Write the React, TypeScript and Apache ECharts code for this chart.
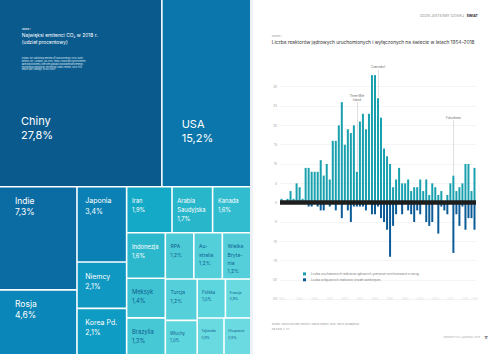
import React, { useEffect, useRef } from 'react';
import * as echarts from 'echarts';

const FONT = 'Inter, "Noto Sans", "DejaVu Sans", sans-serif';

// ---------- Left page: largest CO2 emitters in 2018 (share, %) ----------
const countries = [
  'Chiny', 'USA', 'Indie', 'Rosja', 'Japonia', 'Niemcy', 'Korea Pd.', 'Iran',
  'Arabia Saudyjska', 'Kanada', 'Indonezja', 'Meksyk', 'Brazylia', 'RPA',
  'Australia', 'Wielka Brytania', 'Turcja', 'Włochy', 'Polska', 'Francja',
  'Tajlandia', 'Hiszpania',
];
const emissionShares = [
  27.8, 15.2, 7.3, 4.6, 3.4, 2.1, 2.1, 1.9, 1.7, 1.6, 1.6, 1.4, 1.3, 1.2, 1.2,
  1.2, 1.2, 1.0, 1.0, 0.9, 0.9, 0.9,
];
const cellLabelNames = [
  'Chiny', 'USA', 'Indie', 'Rosja', 'Japonia', 'Niemcy', 'Korea Pd.', 'Iran',
  'Arabia\nSaudyjska', 'Kanada', 'Indonezja', 'Meksyk', 'Brazylia', 'RPA',
  'Au-\nstralia', 'Wielka\nBryta-\nnia', 'Turcja', 'Włochy', 'Polska', 'Francja',
  'Tajlandia', 'Hiszpania',
];

// styles (kept apart from the data)
const cellColors = [
  '#0b5a8e', '#0a76ab', '#0b6ba3', '#0a87b8', '#0b80b4', '#0e98c2', '#0e9cc4',
  '#14a9c6', '#28b6ca', '#31bccf', '#2cb8cc', '#3fc3d2', '#47c8d5', '#4ccbd7',
  '#52cfd9', '#55d0da', '#55d0da', '#5ed6de', '#5ed6de', '#68dae0', '#68dae0',
  '#6cdbe1',
];
const cellTiers = [
  'xl', 'xl', 'l', 'l', 'm', 'm', 'm', 's', 's', 's', 's', 's', 's', 'xs', 'xs',
  'xs', 'xs', 'xxs', 'xxs', 'xxxs', 'xxxs', 'xxxs',
];
const TIERS: Record<string, any> = {
  xl: { fontSize: 11, lineHeight: 14, padding: 0 },
  l: { fontSize: 8.5, lineHeight: 11.5, padding: [7.5, 0, 0, 15] },
  m: { fontSize: 7, lineHeight: 10.5, padding: [8, 0, 0, 7.5] },
  s: { fontSize: 5.8, lineHeight: 9, padding: [8.5, 0, 0, 4.5] },
  xs: { fontSize: 5, lineHeight: 8.3, padding: [8.5, 0, 0, 4.5] },
  xxs: { fontSize: 4.2, lineHeight: 7, padding: [9, 0, 0, 4] },
  xxxs: { fontSize: 3.4, lineHeight: 6.4, padding: [9.5, 0, 0, 3.5] },
};
const BIG_LABEL_POS: Record<string, number[]> = { Chiny: [21, 114], USA: [19, 117] };
const DARK_TEXT = '#0d5c8e';

// ---------- Right page: reactors started up / shut down, 1954-2018 ----------
const years = Array.from({ length: 65 }, (_, i) => String(1954 + i));
const startups = [
  1, 0, 1, 3, 1, 5, 4, 1, 9, 9,
  8, 8, 8, 11, 7, 10, 6, 16, 16, 20,
  26, 15, 19, 18, 20, 8, 21, 23, 19, 23,
  33, 33, 27, 22, 14, 12, 10, 4, 6, 9,
  5, 5, 6, 3, 4, 4, 6, 3, 6, 2,
  5, 4, 2, 3, 0, 2, 5, 7, 3, 4,
  5, 10, 10, 3, 9,
];
const shutdowns = [
  0, 0, 0, 0, 0, 0, 0, 0, 0, 1,
  1, 0, 1, 2, 2, 0, 1, 0, 2, 0,
  4, 0, 2, 5, 1, 1, 1, 1, 2, 0,
  3, 3, 1, 4, 5, 7, 14, 6, 3, 0,
  3, 0, 2, 3, 5, 2, 3, 0, 5, 6,
  5, 0, 8, 1, 2, 3, 0, 13, 3, 6,
  1, 7, 4, 4, 7,
];
const yearTickLabels = [
  '1954', '1960', '1965', '1970', '1975', '1980', '1985', '1990', '1995',
  '2000', '2005', '2010', '2015', '2018',
];
const eventYears = ['1979', '1986', '2011'];
const eventNames = ['Three Mile\nIsland', 'Czarnobyl', 'Fukushima'];
const eventLineFrom = [8.4, 27.3, 7.3];
const eventLineTo = [26, 34.4, 21.3];

const seriesStarted = 'Liczba uruchomionych reaktorów jądrowych (pierwsze synchronizacje z siecią)';
const seriesClosed = 'Liczba wyłączonych reaktorów (trwałe zamknięcie)';

const fmtShare = (v: number) => v.toFixed(1).replace('.', ',') + '%';

const txt = (x: number, y: number, text: string, fontSize: number, fill: string, extra: any = {}) => ({
  type: 'text',
  x,
  y,
  silent: true,
  z: 100,
  style: { text, fill, fontSize, fontFamily: FONT, align: 'left', verticalAlign: 'middle', ...extra },
});

function buildOption() {
  const treemapData = countries.map((name, i) => {
    const tier = TIERS[cellTiers[i]];
    const label: any = {
      fontSize: tier.fontSize,
      lineHeight: tier.lineHeight,
      padding: tier.padding,
      color: i <= 10 ? '#ffffff' : DARK_TEXT,
    };
    if (BIG_LABEL_POS[name]) label.position = BIG_LABEL_POS[name];
    return { name, value: emissionShares[i], itemStyle: { color: cellColors[i] }, label };
  });
  const nameMap: Record<string, string> = {};
  countries.forEach((c, i) => (nameMap[c] = cellLabelNames[i]));

  const leftSource = [
    'Źródło: BP Statistical Review of World Energy 2019, 68th',
    'edition, BP, London, 06.2019, https://www.bp.com/content/',
    'dam/bp/business-sites/en/global/corporate/pdfs/energy-',
    'economics/statistical-review/bp-stats-review-2019-full-',
    'report.pdf (dostęp: 18.06.2019).',
  ];

  const graphic: any[] = [
    { type: 'rect', shape: { x: 250, y: 0, width: 3, height: 354 }, style: { fill: '#eef2f7' }, z: 1, silent: true },
    // left page texts
    txt(21.7, 29.5, 'Tabela 1', 2.3, '#ffffff'),
    txt(21.7, 35, 'Najwięksi emitenci CO₂ w 2018 r.', 4.9, '#ffffff'),
    txt(21.7, 41.7, '(udział procentowy)', 4.9, '#ffffff'),
    ...leftSource.map((l, i) => txt(21.7, 58.5 + i * 2.8, l, 2.3, '#dfe9f2')),
    // right page texts
    txt(464, 16, 'GDZIE JESTEŚMY DZISIAJ', 3.5, '#8a8a8a', { align: 'right' }),
    txt(466.5, 16, 'ŚWIAT', 3.4, '#222222', { fontWeight: 'bold' }),
    txt(271.7, 36.6, 'Wykres 1', 2.3, '#8a8a8a'),
    txt(271.7, 42.3, 'Liczba reaktorów jądrowych uruchomionych i wyłączonych na świecie w latach 1954–2018', 4.75, '#333333'),
    txt(271.7, 323.3, 'Źródło: World Nuclear Industry Status Report 2019, Paryż–Budapeszt', 2.7, '#9a9a9a'),
    txt(271.7, 328.3, '09.2019, s. 27.', 2.7, '#9a9a9a'),
    txt(480, 337.7, 'ENERGETYKA JĄDROWA 2019', 2.5, '#aaaaaa', { align: 'right' }),
    txt(484.5, 337.7, '17', 3.2, '#333333', { fontWeight: 'bold' }),
  ];

  return {
    animation: false,
    textStyle: { fontFamily: FONT },
    graphic,
    legend: {
      orient: 'vertical',
      left: 298,
      top: 267.4,
      itemWidth: 3,
      itemHeight: 3,
      itemGap: 2.9,
      icon: 'rect',
      selectedMode: false,
      data: [seriesStarted, seriesClosed],
      textStyle: { fontSize: 2.9, color: '#7a7a7a', fontFamily: FONT },
    },
    grid: { left: 280, right: 24, top: 67.4, bottom: 54.7 },
    xAxis: {
      type: 'category',
      data: years,
      z: 5,
      axisLine: { onZero: true, lineStyle: { color: '#1e1e1e', width: 4.5, cap: 'butt' } },
      axisTick: { show: false },
      axisLabel: {
        interval: (_i: number, v: string) => yearTickLabels.includes(v),
        color: '#e2e2e2',
        fontSize: 3,
        margin: 0,
        verticalAlign: 'middle',
        fontFamily: FONT,
      },
      splitLine: { show: false },
    },
    yAxis: {
      type: 'value',
      min: -25,
      max: 35,
      interval: 5,
      axisLine: { show: false },
      axisTick: { show: false },
      axisLabel: {
        color: '#9a9a9a',
        fontSize: 3,
        margin: 3,
        showMaxLabel: false,
        fontFamily: FONT,
        formatter: (v: number) => (v === 35 ? '' : String(v)),
      },
      splitLine: { showMaxLine: false, lineStyle: { color: '#ececec', width: 0.6 } },
    },
    series: [
      {
        type: 'treemap',
        left: 0,
        top: 0,
        width: 250,
        height: 354,
        roam: false,
        nodeClick: false,
        silent: true,
        sort: false,
        squareRatio: 1.093,
        breadcrumb: { show: false },
        upperLabel: { show: false },
        levels: [
          { itemStyle: { borderWidth: 0, gapWidth: 1.6, borderColor: '#ffffff' } },
          { itemStyle: { borderWidth: 0, gapWidth: 0 } },
        ],
        label: {
          show: true,
          position: 'insideTopLeft',
          distance: 0,
          overflow: 'none',
          fontFamily: FONT,
          fontWeight: 400,
          formatter: (p: any) => `${nameMap[p.name] ?? p.name}\n${fmtShare(Number(p.value))}`,
        },
        data: treemapData,
      },
      {
        name: seriesStarted,
        type: 'bar',
        data: startups,
        barWidth: '66%',
        barGap: '-100%',
        itemStyle: { color: '#18a0ae' },
        markLine: {
          silent: true,
          symbol: ['none', 'none'],
          lineStyle: { color: '#c9c9c9', width: 0.6, type: 'solid' },
          label: {
            show: true,
            position: 'end',
            formatter: '{b}',
            fontSize: 2.9,
            lineHeight: 3.5,
            color: '#666666',
            distance: 1,
            fontFamily: FONT,
          },
          data: eventYears.map((y, i) => [
            { name: eventNames[i], coord: [y, eventLineFrom[i]] },
            { coord: [y, eventLineTo[i]] },
          ]),
        },
      },
      {
        name: seriesClosed,
        type: 'bar',
        data: shutdowns.map((v) => -v),
        barWidth: '66%',
        barGap: '-100%',
        itemStyle: { color: '#0b5b97' },
      },
    ],
  };
}

export default function App() {
  const ref = useRef<HTMLDivElement>(null);
  useEffect(() => {
    if (!ref.current) return;
    const chart = echarts.init(ref.current, null, { renderer: 'svg' });
    chart.setOption(buildOption() as any);
    return () => chart.dispose();
  }, []);
  return (
    <div
      ref={ref}
      style={{ position: 'fixed', left: 0, top: 0, width: 500, height: 354, background: '#ffffff' }}
    />
  );
}
